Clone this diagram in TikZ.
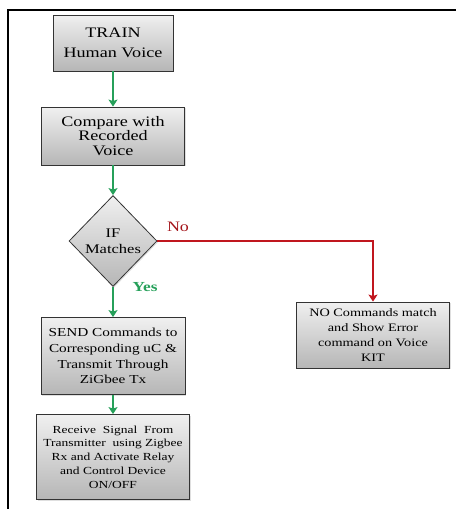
\documentclass[tikz,border=0pt]{standalone}
\usepackage{fontspec}
\setmainfont{Liberation Serif}[FakeStretch=1.25]
\usetikzlibrary{positioning,arrows.meta,shapes.geometric,shadows}
\definecolor{flgreen}{RGB}{38,160,90}
\definecolor{flred}{RGB}{192,22,30}
\definecolor{flgray}{RGB}{182,182,182}

\begin{document}
\begin{tikzpicture}[x=1pt,y=-1pt,
  box/.style={draw=black!80, line width=0.8pt, top color=black!6, bottom color=flgray,
    align=center, inner sep=2pt,
    drop shadow={opacity=0.25,shadow xshift=1.2pt,shadow yshift=-1.2pt}},
  yesarrow/.style={draw=flgreen, line width=2.8pt, -{Stealth[length=7pt,width=9pt,inset=1.5pt]}},
  noarrow/.style={draw=flred, line width=2.2pt, -{Stealth[length=7pt,width=9pt,inset=1.5pt]}}]
\useasboundingbox (0,0) rectangle (457,509);
% Frame
\draw[line width=2pt] (8,509) -- (8,10) -- (456,10);

% Steps
\node[box, minimum width=120pt, minimum height=56pt, font=\fontsize{14.5}{20.5}\selectfont] (train) at (113,43) {TRAIN\\Human Voice};
\node[box, minimum width=143pt, minimum height=58pt, font=\fontsize{14.5}{14.5}\selectfont] (compare) at (113,136) {Compare with\\Recorded\\Voice};
\node[box, diamond, aspect=1, inner sep=0pt, minimum width=88pt, minimum height=91pt, font=\fontsize{13.2}{16}\selectfont] (match) at (113,241) {IF\\Matches};
\node[box, minimum width=144pt, minimum height=77pt, font=\fontsize{12.2}{15.7}\selectfont] (send) at (113,356) {SEND Commands to\\Corresponding uC \&\\Transmit Through\\ZiGbee Tx};
\node[box, minimum width=153pt, minimum height=85pt, font=\fontsize{10.8}{13.8}\selectfont] (recv) at (113,457) {Receive~ Signal~ From\\Transmitter~ using Zigbee\\Rx and Activate Relay\\and Control Device\\ON/OFF};
\node[box, minimum width=153pt, minimum height=66pt, font=\fontsize{11.4}{15}\selectfont] (nomatch) at (373,335) {NO Commands match\\and Show Error\\command on Voice\\KIT};

% Arrows
\draw[yesarrow] (train) -- (compare);
\draw[yesarrow] (compare) -- (match);
\draw[yesarrow] (match) -- (send);
\draw[yesarrow] (send) -- (recv);
\draw[noarrow] (match.east) -| (nomatch.north);

% Labels
\node[text=flred!85!black, font=\fontsize{14.4}{16}\selectfont] (nolbl) at (178,227) {No};
\node[text=flgreen, font=\fontsize{13.8}{16}\selectfont\bfseries] (yeslbl) at (145,287) {Yes};
\end{tikzpicture}
\end{document}
